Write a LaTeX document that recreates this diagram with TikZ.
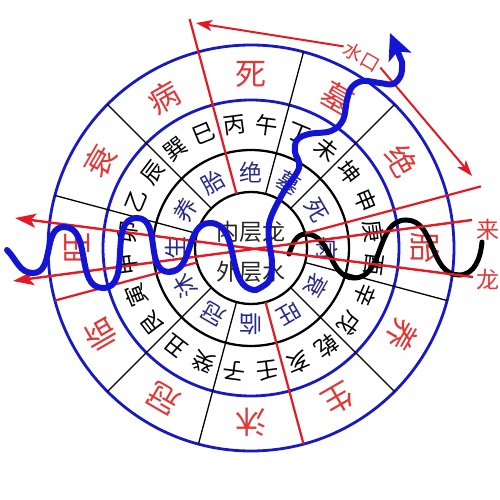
\documentclass[tikz,border=0pt]{standalone}
\usepackage{fontspec}
\newfontfamily\cjk{Noto Sans CJK SC}
\usetikzlibrary{arrows.meta}
\definecolor{cblue}{RGB}{25,25,195}
\definecolor{wblue}{RGB}{20,20,215}
\definecolor{cred}{RGB}{228,25,35}
\definecolor{tred}{RGB}{225,55,55}
\definecolor{tnavy}{RGB}{40,40,135}
\begin{document}
\begin{tikzpicture}[x=1pt,y=1pt,
  bluering/.style={draw=cblue, line width=2.8pt},
  blackring/.style={draw=black, line width=2.3pt},
  divline/.style={draw=black, line width=1.3pt},
  reddiv/.style={draw=cred, line width=2.2pt},
  redray/.style={draw=cred, line width=2.4pt},
  bigtip/.style={-{Stealth[length=21pt,width=14pt,inset=5pt]}},
  smalltip/.style={-{Stealth[length=16pt,width=11pt,inset=4pt]}},
  outerch/.style={font=\cjk\fontsize{31}{31}\selectfont, text=tred, inner sep=0pt},
  midch/.style={font=\cjk\fontsize{22.5}{22.5}\selectfont, text=black, inner sep=0pt},
  innch/.style={font=\cjk\fontsize{23}{23}\selectfont, text=tnavy, inner sep=0pt},
  centerch/.style={font=\cjk\fontsize{23}{23}\selectfont, text=black!85, inner sep=0pt},
  redlabel/.style={font=\cjk\fontsize{23}{23}\selectfont, text=tred, inner sep=1pt},
  sklabel/.style={font=\cjk\fontsize{19}{19}\selectfont, text=tred, inner sep=2pt},
  bluewave/.style={draw=wblue, line width=6pt, line cap=round, line join=round},
  blackwave/.style={draw=black, line width=5pt, line cap=round},
]
\useasboundingbox (-251,-252) rectangle (249,248);
\coordinate (O) at (0,0);
% rings
\draw[bluering] (O) circle[radius=203];
\draw[bluering] (O) circle[radius=148];
\draw[blackring] (O) circle[radius=98];
\draw[blackring] (O) circle[radius=56];
% black dividers
\foreach \a in {45,75,135,165,225,255,315,345}
  \draw[divline] (\a:56) -- (\a:203);
% outer ring (red)
\foreach \a/\t [count=\i] in {90/死,60/墓,30/绝,0/胎,-30/养,-60/生,-90/沐,-120/冠,-150/临,180/旺,150/衰,120/病}
  \node[outerch, rotate=\a-90] (o\i) at (\a:174) {\t};
% middle ring (24 mountains)
\foreach \a/\t [count=\i] in {97.5/丙,82.5/午,67.5/丁,52.5/未,37.5/坤,22.5/申,7.5/庚,-7.5/酉,-22.5/辛,-37.5/戌,-52.5/乾,-67.5/亥,-82.5/壬,-97.5/子,-112.5/癸,-127.5/丑,-142.5/艮,-157.5/寅,-172.5/甲,172.5/卯,157.5/乙,142.5/辰,127.5/巽,112.5/巳}
  \node[midch, rotate=\a-90] (m\i) at (\a:124) {\t};
% inner ring (blue)
\foreach \a/\t [count=\i] in {90/绝,60/墓,30/死,0/病,-30/衰,-60/旺,-90/临,-120/冠,-150/沐,180/生,150/养,120/胎}
  \node[innch, rotate=\a-90] (n\i) at (\a:76) {\t};
% centre
\node[centerch] (nei) at (0,16) {内层龙};
\node[centerch] (wai) at (0,-24) {外层水};
% black dragon wave
\draw[blackwave] (38,-6) to[out=70,in=180] (55,14) to[out=0,in=180] (103,-30)
  to[out=0,in=180] (155,28) to[out=0,in=180] (208,-27) to[out=0,in=-95] (231,6);
% red dividers
\coordinate (tipL) at (105:237);
\coordinate (tipR) at (15:238);
\draw[reddiv] (105:56) -- (tipL);
\draw[reddiv] (15:56) -- (tipR);
\draw[reddiv] (195:56) -- (195:203);
\draw[reddiv] (285:56) -- (285:203);
% lai long lines
\node[redlabel] (lai) at (237,18) {来};
\node[redlabel] (long) at (237,-32) {龙};
\coordinate (bR) at (221,28);
\coordinate (bL) at (-238,-33);
\coordinate (cR) at (222,-29);
\coordinate (cL) at (-236,30);
\draw[redray, bigtip] (bR) -- (bL);
\draw[redray, bigtip] (cR) -- (cL);
% shui kou
\node[sklabel, rotate=-30] (sk) at (111,191) {水口};
\coordinate (aL) at (-55,225);
\coordinate (aR) at (221,72);
\draw[redray, line width=2pt, smalltip] (sk.west) -- (aL);
\draw[redray, line width=2pt, smalltip] (sk.east) -- (aR);
% blue water wave
\draw[bluewave, -{Stealth[length=26pt,width=24pt,inset=6pt]}]
  (-244,-2) to[out=-45,in=180] (-218,-25) to[out=0,in=180] (-187,21)
  to[out=0,in=180] (-148,-40) to[out=0,in=180] (-114,30)
  to[out=0,in=180] (-82,-24) to[out=0,in=180] (-41,25)
  to[out=0,in=180] (5,-42)
  -- plot[smooth, tension=0.6] coordinates {(5,-42) (18,-33) (21,-15) (18,8) (19,28) (32,55) (48,80) (44,96) (46,108) (58,114) (80,117) (92,128) (96,148) (101,161) (112,167) (129,165) (142,164) (150,173) (151,186)}
  -- (139,215);
\end{tikzpicture}
\end{document}
